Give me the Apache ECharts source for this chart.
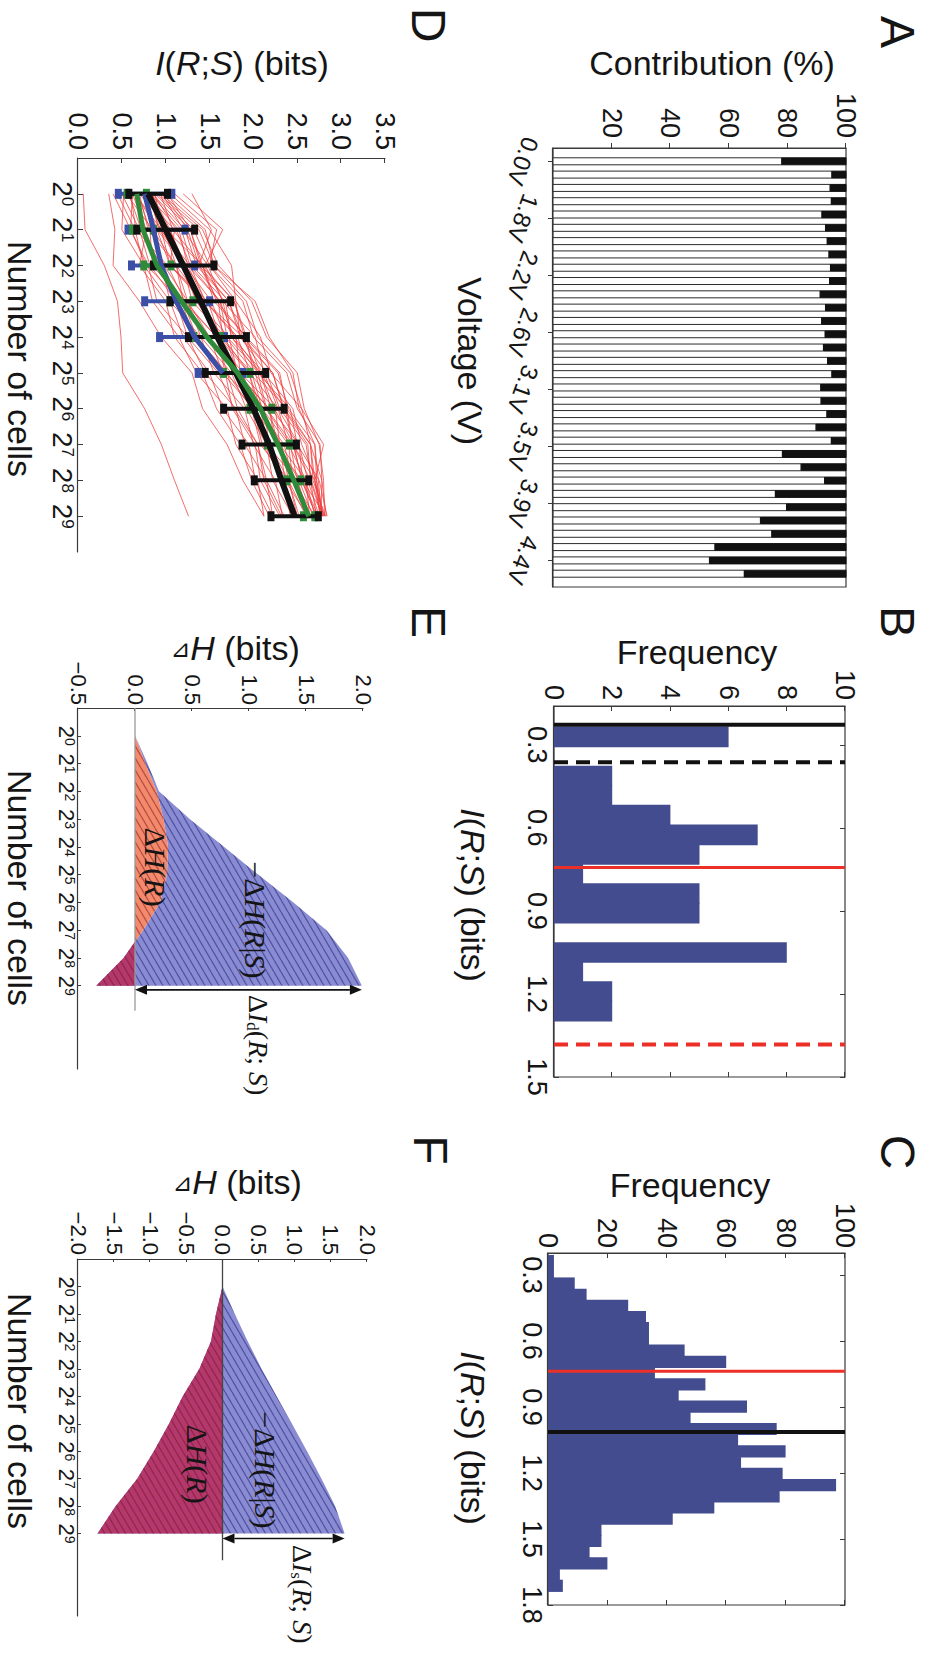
<!DOCTYPE html>
<html>
<head>
<meta charset="utf-8">
<title>Information vs number of cells</title>
<script src="https://cdn.jsdelivr.net/npm/echarts@6.0.0/dist/echarts.min.js"></script>
<style>
  html, body { margin: 0; padding: 0; background: #fff; }
  body { width: 925px; height: 1663px; overflow: hidden; position: relative; }
  /* the figure is laid out in landscape and turned a quarter turn clockwise */
  #fig { position: absolute; left: 0; top: 0; width: 1663px; height: 925px;
         transform-origin: 0 0; transform: translate(925px, 0) rotate(90deg); }
</style>
</head>
<body>
<div id="fig"></div>
<script>
// ---------- A: contribution per voltage step (%) ----------
const aBar = [1,2,3,4,5,6,7,8,9,10,11,12,13,14,15,16,17,18,19,20,21,22,23,24,25,26,27,28,29,30,31,32];
const aWhite = [78.1,95.2,94.6,95.0,91.8,93.0,93.6,94.2,94.7,94.4,91.2,93.0,91.7,92.9,92.3,93.7,
                95.2,91.4,91.5,93.5,89.8,95.0,78.3,84.7,92.7,75.9,79.7,70.8,74.7,55.3,53.4,65.3];
const aBlack = [21.9,4.8,5.4,5.0,8.2,7.0,6.4,5.8,5.3,5.6,8.8,7.0,8.3,7.1,7.7,6.3,
                4.8,8.6,8.5,6.5,10.2,5.0,21.7,15.3,7.3,24.1,20.3,29.2,25.3,44.7,46.6,34.7];
const aTickPos = [1, 5.29, 9.57, 13.86, 18.14, 22.43, 26.71, 31];
const aTickLabels = ['0.0V','1.8V','2.2V','2.6V','3.1V','3.5V','3.9V','4.4V'];

// ---------- B: histogram, few runs ----------
const bEdges = [0.234,0.305,0.376,0.446,0.517,0.588,0.659,0.730,0.800,0.871,0.942,1.013,1.084,1.154,1.225,1.296];
const bCounts = [6,0,2,2,4,7,5,1,5,5,0,8,1,2,2];
const bRefs = [0.228, 0.363, 0.743, 1.383];   // black, black dashed, red, red dashed
const bTicks = [0.3, 0.6, 0.9, 1.2, 1.5];

// ---------- C: histogram, many runs ----------
const cEdges = [0.209,0.260,0.311,0.362,0.413,0.464,0.514,0.565,0.616,0.667,0.718,0.769,0.820,0.871,0.922,0.973,
                1.023,1.074,1.125,1.176,1.227,1.278,1.329,1.380,1.431,1.482,1.532,1.583,1.634,1.685,1.736];
const cCounts = [2,2,9,13,27,33,34,34,46,60,36,53,44,67,48,77,64,80,65,79,97,78,56,42,18,18,14,20,4,5];
const cRefs = [0.738, 1.014];                 // red, black
const cTicks = [0.3, 0.6, 0.9, 1.2, 1.5, 1.8];

// ---------- D: I(R;S) vs log2(number of cells) ----------
const dCells = [0,1,2,3,4,5,6,7,8,9];
const dRuns = [
  [0.06,0.08,0.30,0.45,0.49,0.51,0.76,0.95,1.10,1.26],
  [0.35,0.42,0.40,0.70,0.95,1.30,1.42,1.70,1.88,2.12],
  [0.50,0.70,0.82,1.12,1.25,1.60,1.78,2.05,2.12,2.32],
  [0.55,0.85,0.98,1.25,1.40,1.75,1.92,2.15,2.22,2.45],
  [0.60,0.66,1.02,1.22,1.58,1.70,1.98,2.08,2.40,2.52],
  [0.65,0.95,1.05,1.42,1.55,1.88,2.00,2.30,2.36,2.62],
  [0.70,0.80,1.12,1.20,1.58,1.68,2.08,2.15,2.50,2.60],
  [0.72,1.10,1.05,1.45,1.80,1.85,2.25,2.30,2.60,2.70],
  [0.75,0.90,1.22,1.35,1.62,1.80,2.18,2.25,2.55,2.72],
  [0.78,1.15,1.25,1.62,1.70,2.08,2.20,2.52,2.56,2.82],
  [0.80,1.00,1.42,1.55,1.92,2.00,2.38,2.45,2.70,2.76],
  [0.82,0.92,1.25,1.45,1.88,2.05,2.42,2.50,2.75,2.84],
  [0.85,1.22,1.35,1.72,1.85,2.22,2.35,2.65,2.70,2.80],
  [0.88,1.28,1.40,1.78,1.90,2.28,2.40,2.70,2.74,2.78],
  [0.90,1.32,1.50,1.88,2.00,2.38,2.50,2.76,2.78,2.83],
  [0.92,1.38,1.55,1.92,2.05,2.42,2.55,2.80,2.70,2.79],
  [0.95,1.42,1.60,1.98,2.15,2.50,2.58,2.75,2.80,2.81],
  [1.00,1.45,1.55,2.02,2.18,2.45,2.52,2.70,2.72,2.80],
  [1.05,1.50,1.75,1.80,2.08,2.20,2.55,2.65,2.78,2.77],
  [1.10,1.58,1.50,1.80,1.85,2.15,2.30,2.60,2.66,2.79],
  [1.20,1.65,1.45,1.65,1.75,2.05,2.15,2.45,2.56,2.74],
  [1.30,1.52,1.38,1.60,1.65,1.95,2.05,2.35,2.45,2.70],
  [0.45,0.65,0.75,1.05,1.20,1.50,1.65,1.95,2.02,2.22],
  [0.58,0.72,0.95,1.05,1.40,1.55,1.90,2.00,2.25,2.33],
  [0.62,0.60,0.80,0.90,1.25,1.45,1.80,1.90,2.15,2.22],
  [0.68,0.82,0.85,1.20,1.35,1.70,1.82,2.05,2.15,2.35],
  [0.74,0.85,1.12,1.25,1.50,1.65,2.00,2.10,2.35,2.42],
  [0.76,0.98,1.12,1.42,1.60,1.95,2.08,2.32,2.40,2.60],
  [0.84,1.05,1.22,1.52,1.68,2.02,2.14,2.42,2.50,2.64],
  [0.86,1.12,1.28,1.62,1.78,2.08,2.24,2.46,2.55,2.72],
  [0.94,1.08,1.42,1.58,1.92,2.08,2.36,2.45,2.65,2.72],
  [0.98,1.25,1.38,1.72,1.88,2.22,2.34,2.62,2.65,2.78],
  [0.52,0.50,0.75,0.85,1.15,1.35,1.70,1.80,2.05,2.12],
  [0.40,0.60,0.78,1.18,1.32,1.68,1.76,2.02,2.08,2.30],
  [0.88,0.95,1.20,1.30,1.68,1.82,2.12,2.18,2.40,2.50],
  [1.02,1.28,1.42,1.78,1.92,2.30,2.38,2.65,2.68,2.82],
  [0.66,0.90,1.05,1.48,1.62,1.98,2.10,2.40,2.45,2.66],
  [0.79,0.94,1.28,1.45,1.82,1.96,2.28,2.40,2.60,2.64],
  [0.62,0.78,0.70,1.00,1.10,1.42,1.58,1.85,1.98,2.18],
  [0.96,1.20,1.48,1.65,2.02,2.12,2.45,2.55,2.72,2.76],
  [0.70,1.05,1.18,1.35,1.72,1.82,2.18,2.28,2.52,2.68],
  [0.83,1.18,1.30,1.68,1.75,2.12,2.28,2.52,2.62,2.75]
];
const dBlackMean = [0.80,1.00,1.20,1.40,1.59,1.80,2.00,2.18,2.32,2.47];
const dBlackLo   = [0.58,0.67,0.86,1.05,1.26,1.45,1.66,1.87,2.01,2.20];
const dBlackHi   = [1.02,1.33,1.55,1.74,1.92,2.14,2.35,2.49,2.63,2.74];
const dBlueMean  = [0.76,0.86,0.95,1.12,1.33,1.65];
const dBlueLo    = [0.46,0.57,0.61,0.76,0.93,1.37];
const dBlueHi    = [1.07,1.22,1.33,1.50,1.67,1.88];
const dGreenMean = [0.67,0.74,0.90,1.18,1.47,1.82,2.08,2.28,2.46,2.63];
const dGreenLo   = [0.56,0.62,0.75,1.05,1.32,1.66,1.96,2.16,2.38,2.57];
const dGreenHi   = [0.78,0.86,1.06,1.31,1.62,1.96,2.21,2.41,2.54,2.70];

// ---------- E / F: entropy changes ----------
const eCells = [0,1,2,3,4,5,6,7,8,9];
const eCondNeg = [0,0.11,0.21,0.48,0.78,1.08,1.39,1.68,1.87,1.99];   // -dH(R|S)
const eResp    = [0,0.09,0.19,0.25,0.29,0.28,0.22,0.07,-0.10,-0.34]; // dH(R)
const eArrow = [9.15, 0, 1.99];
const eZero = [-1, 9.9];
const fCondNeg = [0,0.17,0.35,0.54,0.75,0.96,1.17,1.37,1.56,1.69];
const fResp    = [0,-0.09,-0.16,-0.32,-0.55,-0.74,-0.95,-1.18,-1.48,-1.73];
const fArrow = [9.18, 0, 1.69];
const fZero = [-1, 9.97];

// ---------- helpers ----------
const FONT = '"Liberation Sans", Arial, "DejaVu Sans", sans-serif';
const SERIF = '"Liberation Serif", "Times New Roman", serif';
const INK = '#151515';
const AX = '#3a3a3a';

function merge(a, b) {
  const out = Object.assign({}, a);
  for (const k in b) {
    if (b[k] && typeof b[k] === 'object' && !Array.isArray(b[k]) && a[k] && typeof a[k] === 'object') out[k] = merge(a[k], b[k]);
    else out[k] = b[k];
  }
  return out;
}
const baseAxis = {
  type: 'value', splitLine: {show: false},
  axisLine: {show: true, onZero: false, lineStyle: {color: AX, width: 1.2}},
  axisTick: {show: true, inside: true, length: 5, lineStyle: {color: AX, width: 1}},
  axisLabel: {color: INK, fontFamily: FONT, fontSize: 27, margin: 6}
};
function mirror(gi, pos, min, max, ticks) {
  return merge(baseAxis, {gridIndex: gi, position: pos, min, max,
    axisLine: {show: false}, axisLabel: {show: false},
    axisTick: {customValues: ticks}});
}
const pow2 = {
  b: {fontFamily: FONT, fontSize: 28, lineHeight: 28, verticalAlign: 'bottom', color: INK},
  s: {fontFamily: FONT, fontSize: 17, lineHeight: 17, verticalAlign: 'top', color: INK}
};
const pow2small = {
  b: {fontFamily: FONT, fontSize: 22, lineHeight: 22, verticalAlign: 'bottom', color: INK},
  s: {fontFamily: FONT, fontSize: 14, lineHeight: 14, verticalAlign: 'top', color: INK}
};
const signed = v => (v < 0 ? '\u2212' : '') + Math.abs(v).toFixed(1);

function hatch(base, line) {
  const c = document.createElement('canvas');
  c.width = 12; c.height = 7;
  const g = c.getContext('2d');
  if (base) { g.fillStyle = base; g.fillRect(0, 0, 12, 7); }
  g.strokeStyle = line; g.lineWidth = 1.3;
  [-7, 0, 7].forEach(o => { g.beginPath(); g.moveTo(0, 7 + o); g.lineTo(12, o); g.stroke(); });
  return {image: c, repeat: 'repeat'};
}
const blueFill = hatch('#8a8cd3', '#5254a2');
const redHatch = hatch(null, 'rgba(120,20,30,0.5)');

function histSeries(ax, edges, counts) {
  return {type: 'custom', xAxisIndex: ax, yAxisIndex: ax, silent: true,
    data: counts.map((c, i) => [edges[i], edges[i + 1], c]),
    encode: {x: [0, 1], y: 2},
    renderItem(params, api) {
      const p0 = api.coord([api.value(0), 0]);
      const p1 = api.coord([api.value(1), api.value(2)]);
      return {type: 'rect', shape: {x: p0[0], y: p1[1], width: p1[0] - p0[0] + 1, height: p0[1] - p1[1]},
        style: {fill: '#424c8e'}};
    }};
}
function vline(ax, x, top, color, width, dash) {
  return {type: 'line', xAxisIndex: ax, yAxisIndex: ax, silent: true, symbol: 'none', z: 4,
    data: [[x, 0], [x, top]], lineStyle: {color, width, type: dash ? [14, 8] : 'solid'}};
}
function errSeries(color, xs, lo, hi) {
  return {type: 'custom', xAxisIndex: 3, yAxisIndex: 3, silent: true, z: 5,
    data: lo.map((v, i) => [xs[i], v, hi[i]]),
    encode: {x: 0, y: [1, 2]},
    renderItem(params, api) {
      const a = api.coord([api.value(0), api.value(1)]);
      const b = api.coord([api.value(0), api.value(2)]);
      return {type: 'group', children: [
        {type: 'line', shape: {x1: a[0], y1: a[1], x2: b[0], y2: b[1]}, style: {stroke: color, lineWidth: 4}},
        {type: 'rect', shape: {x: a[0] - 5, y: a[1] - 3.5, width: 10, height: 7}, style: {fill: color}},
        {type: 'rect', shape: {x: b[0] - 5, y: b[1] - 3.5, width: 10, height: 7}, style: {fill: color}}
      ]};
    }};
}
function meanLine(color, width, xs, ys, z) {
  return {type: 'line', xAxisIndex: 3, yAxisIndex: 3, silent: true, symbol: 'none', z,
    data: ys.map((v, i) => [xs[i], v]), lineStyle: {color, width}};
}
function outline(api, xs, upper, lower) {
  const pts = xs.map((x, i) => api.coord([x, upper[i]]));
  for (let i = xs.length - 1; i >= 0; i--) pts.push(api.coord([xs[i], lower ? lower[i] : 0]));
  return pts;
}
// information band: between dH(R) and -dH(R|S)
function band(ax, xs, upper, lower, fill, z) {
  return {type: 'custom', xAxisIndex: ax, yAxisIndex: ax, silent: true, z, data: [[xs[0], 0]],
    renderItem(params, api) {
      return {type: 'polygon', shape: {points: outline(api, xs, upper, lower)}, style: {fill}};
    }};
}
// dH(R): salmon above zero, crimson below zero, hatched
function respBand(ax, xs, ys, z) {
  return {type: 'custom', xAxisIndex: ax, yAxisIndex: ax, silent: true, z, data: [[xs[0], 0]],
    renderItem(params, api) {
      const pts = outline(api, xs, ys, null);
      const y0 = api.coord([xs[0], 0])[1];
      const grad = new echarts.graphic.LinearGradient(0, y0 - 1, 0, y0 + 1, [
        {offset: 0, color: '#f48a6c'}, {offset: 0.5, color: '#f48a6c'},
        {offset: 0.5, color: '#b3386d'}, {offset: 1, color: '#b3386d'}], true);
      return {type: 'group', children: [
        {type: 'polygon', shape: {points: pts}, style: {fill: grad}},
        {type: 'polygon', shape: {points: pts}, style: {fill: redHatch}}
      ]};
    }};
}
function arrow(ax, a) {
  return {type: 'custom', xAxisIndex: ax, yAxisIndex: ax, silent: true, z: 6, data: [a],
    encode: {x: 0, y: [1, 2]},
    renderItem(params, api) {
      const p = api.coord([api.value(0), api.value(1)]);
      const q = api.coord([api.value(0), api.value(2)]);
      const h = 12, w = 5;
      return {type: 'group', children: [
        {type: 'line', shape: {x1: p[0], y1: p[1] - h, x2: q[0], y2: q[1] + h}, style: {stroke: '#111', lineWidth: 1.6}},
        {type: 'polygon', shape: {points: [[p[0], p[1]], [p[0] - w, p[1] - h], [p[0] + w, p[1] - h]]}, style: {fill: '#111'}},
        {type: 'polygon', shape: {points: [[q[0], q[1]], [q[0] - w, q[1] + h], [q[0] + w, q[1] + h]]}, style: {fill: '#111'}}
      ]};
    }};
}
function zeroLine(ax, span, color) {
  return {type: 'line', xAxisIndex: ax, yAxisIndex: ax, silent: true, symbol: 'none', z: 5,
    data: [[span[0], 0], [span[1], 0]], lineStyle: {color, width: 1.3}};
}

// text drawn on the figure
const sansRich = s => ({
  n: {fontFamily: FONT, fontSize: s, fill: INK},
  i: {fontFamily: FONT, fontSize: s, fontStyle: 'italic', fill: INK},
  t: {fontFamily: FONT, fontSize: Math.round(s * 0.72), fill: INK}
});
const serifRich = s => ({
  n: {fontFamily: SERIF, fontSize: s, fill: INK},
  i: {fontFamily: SERIF, fontSize: s, fontStyle: 'italic', fill: INK},
  d: {fontFamily: SERIF, fontSize: Math.round(s * 0.62), fill: INK, verticalAlign: 'bottom'}
});
function txt(x, y, text, o) {
  o = o || {};
  return {type: 'text', x, y, rotation: o.rot || 0, z: 100,
    style: {text, fill: INK, font: (o.size || 34) + 'px ' + FONT,
      align: o.align || 'center', verticalAlign: 'middle',
      textAlign: o.align || 'center', textVerticalAlign: 'middle', rich: o.rich}};
}
const R90 = Math.PI / 2;
const IRS = '{i|I}{n|(}{i|R}{n|;}{i|S}{n|) (bits)}';
const DH = '{t|\u22BF}{i|H}{n| (bits)}';
const graphic = [
  txt(32, 28, 'A', {size: 48}), txt(622, 28, 'B', {size: 48}), txt(1152, 28, 'C', {size: 48}),
  txt(25, 497, 'D', {size: 48}), txt(622, 497, 'E', {size: 48}), txt(1150, 495, 'F', {size: 48}),
  txt(63, 213, 'Contribution (%)', {rot: R90}),
  txt(361, 455, 'Voltage (V)'),
  txt(652, 228, 'Frequency', {rot: R90}),
  txt(895, 452, IRS, {rich: sansRich(34)}),
  txt(1185, 235, 'Frequency', {rot: R90}),
  txt(1438, 452, IRS, {rich: sansRich(34)}),
  txt(63, 683, IRS, {rot: R90, rich: sansRich(34)}),
  txt(359, 905, 'Number of cells'),
  txt(648, 690, DH, {rot: R90, rich: sansRich(34)}),
  txt(888, 905, 'Number of cells'),
  txt(1182, 688, DH, {rot: R90, rich: sansRich(34)}),
  txt(1411, 905, 'Number of cells'),
  txt(867, 770, '{n|\u0394}{i|H}{n|(}{i|R}{n|)}', {rich: serifRich(30)}),
  txt(920, 670, '{n|\u2212\u0394}{i|H}{n|(}{i|R}{n||}{i|S}{n|)}', {rich: serifRich(30)}),
  txt(995, 667, '{n|\u0394}{i|I}{d|d}{n|(}{i|R}{n|; }{i|S}{n|)}', {rich: serifRich(28), align: 'left'}),
  txt(1464, 728, '{n|\u0394}{i|H}{n|(}{i|R}{n|)}', {rich: serifRich(30)}),
  txt(1470, 660, '{n|\u2212\u0394}{i|H}{n|(}{i|R}{n||}{i|S}{n|)}', {rich: serifRich(30)}),
  txt(1545, 623, '{n|\u0394}{i|I}{d|s}{n|(}{i|R}{n|; }{i|S}{n|)}', {rich: serifRich(28), align: 'left'})
];

// ---------- grids and axes (landscape coordinates) ----------
const boxed = {show: true, borderColor: AX, borderWidth: 1.2, backgroundColor: 'rgba(0,0,0,0)', outerBoundsMode: 'none'};
const open = {show: false, outerBoundsMode: 'none'};
const grid = [
  Object.assign({left: 148, top: 79, width: 439, height: 293}, boxed),
  Object.assign({left: 706, top: 80, width: 371, height: 291}, boxed),
  Object.assign({left: 1253, top: 80, width: 352, height: 297}, boxed),
  Object.assign({left: 158, top: 540, width: 394, height: 307}, open),
  Object.assign({left: 708, top: 562, width: 361, height: 285}, open),
  Object.assign({left: 1259, top: 558, width: 357, height: 289}, open)
];
const xAxis = [
  merge(baseAxis, {gridIndex: 0, min: 0, max: 33,
    axisTick: {inside: false, customValues: aTickPos},
    axisLabel: {customValues: aTickPos, fontSize: 24, rotate: -20, align: 'center', verticalAlign: 'middle', margin: 30,
      formatter: v => aTickLabels[aTickPos.findIndex(p => Math.abs(p - v) < 1e-6)] || ''}}),
  merge(baseAxis, {gridIndex: 1, min: 0.16, max: 1.5,
    axisTick: {customValues: bTicks}, axisLabel: {customValues: bTicks, margin: 4, formatter: v => v.toFixed(1)}}),
  merge(baseAxis, {gridIndex: 2, min: 0.2, max: 1.8,
    axisTick: {customValues: cTicks}, axisLabel: {customValues: cTicks, margin: 3, formatter: v => v.toFixed(1)}}),
  merge(baseAxis, {gridIndex: 3, min: -1, max: 10,
    axisTick: {customValues: dCells}, axisLabel: {customValues: dCells, margin: 2, rich: pow2, formatter: v => '{b|2}{s|' + v + '}'}}),
  merge(baseAxis, {gridIndex: 4, min: -1, max: 12, axisTick: {length: 3, customValues: eCells},
    axisLabel: {customValues: eCells, margin: 1, rich: pow2small, formatter: v => '{b|2}{s|' + v + '}'}}),
  merge(baseAxis, {gridIndex: 5, min: -1, max: 12, axisTick: {length: 3, customValues: eCells},
    axisLabel: {customValues: eCells, margin: 1, rich: pow2small, formatter: v => '{b|2}{s|' + v + '}'}}),
  mirror(1, 'top', 0.16, 1.5, bTicks),
  mirror(2, 'top', 0.2, 1.8, cTicks)
];
const yAxis = [
  merge(baseAxis, {gridIndex: 0, min: 0, max: 100, interval: 20, axisTick: {inside: false},
    axisLabel: {showMinLabel: false, margin: 10}}),
  merge(baseAxis, {gridIndex: 1, min: 0, max: 10, interval: 2, axisLabel: {margin: 6}}),
  merge(baseAxis, {gridIndex: 2, min: 0, max: 100, interval: 20, axisLabel: {margin: 5}}),
  merge(baseAxis, {gridIndex: 3, min: 0, max: 3.5, interval: 0.5, axisLabel: {margin: 8, formatter: v => v.toFixed(1)}}),
  merge(baseAxis, {gridIndex: 4, min: -0.5, max: 2, interval: 0.5, axisTick: {length: 3},
    axisLabel: {fontSize: 22, margin: 3, formatter: signed}}),
  merge(baseAxis, {gridIndex: 5, min: -2, max: 2, interval: 0.5, axisTick: {length: 3},
    axisLabel: {fontSize: 22, margin: 4, formatter: signed}}),
  merge(mirror(1, 'right', 0, 10, null), {interval: 2, axisTick: {customValues: null}}),
  merge(mirror(2, 'right', 0, 100, null), {interval: 20, axisTick: {customValues: null}})
];

// ---------- series ----------
const series = [];
// A: white share from 0, black share stacked on top of it
series.push({type: 'custom', xAxisIndex: 0, yAxisIndex: 0, silent: true,
  data: aBar.map((x, i) => [x, aWhite[i], aBlack[i]]),
  encode: {x: 0, y: [1, 2]},
  renderItem(params, api) {
    const x = api.value(0), w = api.value(1), b = api.value(2);
    const p0 = api.coord([x, 0]), p1 = api.coord([x, w]), p2 = api.coord([x, w + b]);
    return {type: 'group', children: [
      {type: 'rect', shape: {x: p0[0] - 3.5, y: p1[1], width: 7, height: p0[1] - p1[1]},
        style: {fill: '#fff', stroke: '#2b2b2b', lineWidth: 1}},
      {type: 'rect', shape: {x: p0[0] - 3.5, y: p2[1], width: 7, height: p1[1] - p2[1]},
        style: {fill: '#111', stroke: '#111', lineWidth: 1}}
    ]};
  }});

series.push(histSeries(1, bEdges, bCounts));
series.push(vline(1, bRefs[0], 10, '#111', 4, false));
series.push(vline(1, bRefs[1], 10, '#111', 4, true));
series.push(vline(1, bRefs[2], 10, '#ec3028', 3, false));
series.push(vline(1, bRefs[3], 10, '#ec3028', 4, true));

series.push(histSeries(2, cEdges, cCounts));
series.push(vline(2, cRefs[0], 100, '#ec3028', 3, false));
series.push(vline(2, cRefs[1], 100, '#111', 4, false));

dRuns.forEach(run => series.push({type: 'line', xAxisIndex: 3, yAxisIndex: 3, silent: true, symbol: 'none', z: 2,
  data: run.map((v, i) => [dCells[i], v]), lineStyle: {color: 'rgba(238,60,60,0.75)', width: 1}}));
series.push(errSeries('#3b4fa6', dCells, dBlueLo, dBlueHi));
series.push(errSeries('#2f8a3a', dCells, dGreenLo, dGreenHi));
series.push(errSeries('#111', dCells, dBlackLo, dBlackHi));
series.push(meanLine('#3b4fa6', 5, dCells, dBlueMean, 6));
series.push(meanLine('#111', 6, dCells, dBlackMean, 7));
series.push(meanLine('#2f8a3a', 5, dCells, dGreenMean, 8));

series.push(band(4, eCells, eCondNeg, eResp, blueFill, 2));
series.push(respBand(4, eCells, eResp, 3));
series.push(zeroLine(4, eZero, '#9a9a9a'));
series.push(arrow(4, eArrow));

series.push(band(5, eCells, fCondNeg, fResp, blueFill, 2));
series.push(respBand(5, eCells, fResp, 3));
series.push(zeroLine(5, fZero, '#444'));
series.push(arrow(5, fArrow));

const chart = echarts.init(document.getElementById('fig'), null, {renderer: 'svg', width: 1663, height: 925});
chart.setOption({
  animation: false,
  backgroundColor: '#fff',
  textStyle: {fontFamily: FONT},
  grid, xAxis, yAxis, series, graphic
});
</script>
</body>
</html>
